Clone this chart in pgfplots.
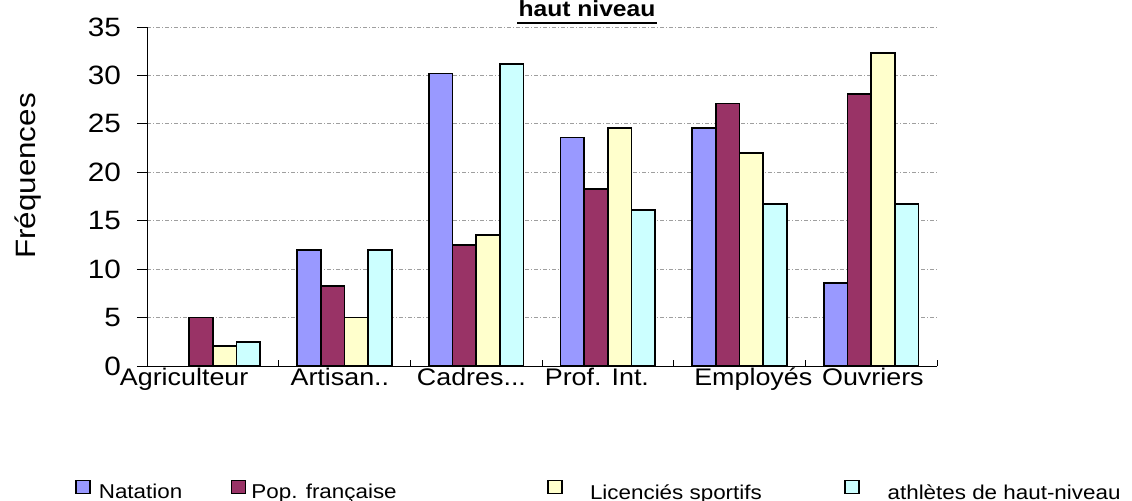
\documentclass[border=0pt]{standalone}
\usepackage{pgfplots}
\pgfplotsset{compat=1.18}
\usepackage{fontspec}
\setmainfont{Liberation Sans}[FakeStretch=1.12]
\definecolor{nat}{HTML}{9999FF}
\definecolor{pop}{HTML}{993366}
\definecolor{lic}{HTML}{FFFFCC}
\definecolor{ath}{HTML}{CCFFFF}
\begin{document}
\begin{tikzpicture}
\useasboundingbox (0bp,0bp) rectangle (1132bp,-501bp);
\begin{axis}[
  at={(147bp,-366bp)}, anchor=south west,
  scale only axis, width=790bp, height=339bp,
  xmin=-0.5, xmax=5.5, ymin=0, ymax=35,
  ybar=0pt, bar width=23.7bp,
  axis x line*=bottom, axis y line*=left,
  axis line style={black, line width=1bp, -},
  /pgf/number format/assume math mode=true,
  ytick={0,5,...,35},
  ytick align=outside, major tick length=10bp,
  ytick style={black, line width=1bp},
  yticklabel style={font=\fontsize{26.5bp}{30bp}\selectfont, inner sep=0pt, anchor=east, xshift=-16bp},
  xtick={-0.218,0.965,1.964,2.917,4.105,5.013},
  xticklabels={{Agriculteur},{Artisan.{}.},{Cadres.{}.{}.},{Prof. Int.},{Employés},{Ouvriers}},
  xtick style={draw=none},
  minor xtick={-0.5,0.5,1.5,2.5,3.5,4.5,5.5},
  minor x tick style={draw=black, line width=1bp},
  xtick align=inside, minor tick length=6bp,
  xticklabel style={font=\fontsize{24bp}{28bp}\selectfont, inner sep=0pt, anchor=base, yshift=-19bp},
  ymajorgrids,
  major grid style={gray!75, line width=0.8bp, dash pattern=on 4bp off 2bp on 1bp off 2bp},
  ylabel={Fréquences},
  ylabel style={font=\fontsize{28bp}{32bp}\selectfont, at={(axis description cs:-0.1506,0.5605)}, anchor=center, inner sep=0pt},
  every axis plot/.append style={draw=black, line width=1.8bp},
  legend columns=4,
  legend style={at={(axis description cs:-0.0911,-0.366)}, anchor=west, draw=none, fill=none, inner sep=0pt,
    font=\fontsize{20bp}{24bp}\selectfont,
    nodes={inner sep=0pt},
    /tikz/every even column/.style={column sep=0bp},
    /tikz/every odd column/.style={column sep=0bp}},
  legend image code/.code={\draw[#1, line width=1.6bp, draw=black] (1bp,-1bp) rectangle (15bp,12bp);},
]
\addplot[fill=nat] coordinates {(1,12.0) (2,30.2) (3,23.6) (4,24.6) (5,8.6)};
\addplot[fill=pop] coordinates {(0,5.0) (1,8.3) (2,12.5) (3,18.3) (4,27.1) (5,28.1)};
\addplot[fill=lic] coordinates {(0,2.1) (1,5.0) (2,13.5) (3,24.6) (4,22.0) (5,32.3)};
\addplot[fill=ath] coordinates {(0,2.5) (1,12.0) (2,31.2) (3,16.1) (4,16.7) (5,16.7)};
\addlegendentry{\hspace*{8bp}\makebox[132bp][l]{Natation}}
\addlegendentry{\hspace*{5bp}\makebox[296bp][l]{Pop. française}}
\addlegendentry{\hspace*{27bp}\makebox[254bp][l]{Licenciés sportifs}}
\addlegendentry{\hspace*{28bp}\makebox[230bp][l]{athlètes de haut-niveau}}
\end{axis}
\node[font=\bfseries\fontsize{22bp}{26bp}\selectfont, anchor=base, inner sep=0pt] at (587bp,-16bp) {haut niveau};
\draw[line width=2bp] (517bp,-22.5bp) -- (657bp,-22.5bp);
\end{tikzpicture}
\end{document}
